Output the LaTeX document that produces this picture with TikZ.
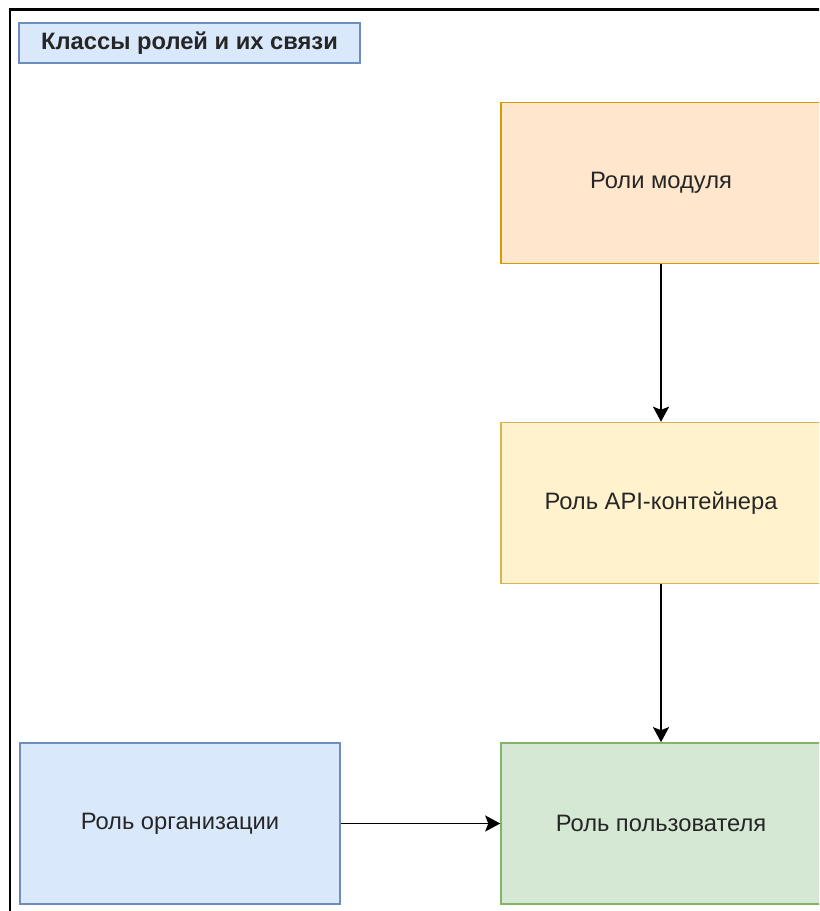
\documentclass[tikz,border=0pt]{standalone}
\usepackage{fontspec}
\setmainfont{Liberation Sans}
\usetikzlibrary{arrows.meta}

\definecolor{orgfill}{HTML}{DAE8FC}
\definecolor{orgline}{HTML}{6C8EBF}
\definecolor{modfill}{HTML}{FFE6CC}
\definecolor{modline}{HTML}{D79B00}
\definecolor{apifill}{HTML}{FFF2CC}
\definecolor{apiline}{HTML}{D6B656}
\definecolor{usrfill}{HTML}{D5E8D4}
\definecolor{usrline}{HTML}{82B366}

\tikzset{
	rolebox/.style={draw, line width=0.9pt, minimum width=6.4cm, minimum height=3.22cm,
		inner sep=0pt, font=\fontsize{13.5}{16}\selectfont, text=black!85},
	titlebox/.style={draw=orgline, fill=orgfill, line width=0.9pt, minimum width=6.82cm,
		minimum height=0.8cm, inner sep=0pt, font=\fontsize{13.5}{16}\selectfont\bfseries, text=black!85},
	link/.style={line width=1.1pt, -{Stealth[length=0.3cm, width=0.32cm, inset=0.06cm]}}
}

\begin{document}
\begin{tikzpicture}[x=0.02cm, y=-0.02cm]
	\clip (0,0) rectangle (819,911);
	\fill[white] (0,0) rectangle (819,911);
	
	%frame
	\draw[line width=1.3pt] (10,940)--(10,9.5)--(840,9.5);
	
	%title
	\node[titlebox] (title) at (189.5,43) {Классы ролей и их связи};
	
	%roles
	\node[rolebox, draw=modline, fill=modfill] (module) at (661,183)   {\raisebox{-2pt}{Роли модуля}};
	\node[rolebox, draw=apiline, fill=apifill] (api)    at (661,503)   {\raisebox{-2pt}{Роль API-контейнера}};
	\node[rolebox, draw=usrline, fill=usrfill] (user)   at (661,823.5) {\raisebox{-2pt}{Роль пользователя}};
	\node[rolebox, draw=orgline, fill=orgfill] (org)    at (180,823.5) {\raisebox{-2pt}{Роль организации}};
	
	%links
	\draw[link] (module)--(api);
	\draw[link] (api)--(user);
	\draw[link] (org)--(user);
\end{tikzpicture}
\end{document}
